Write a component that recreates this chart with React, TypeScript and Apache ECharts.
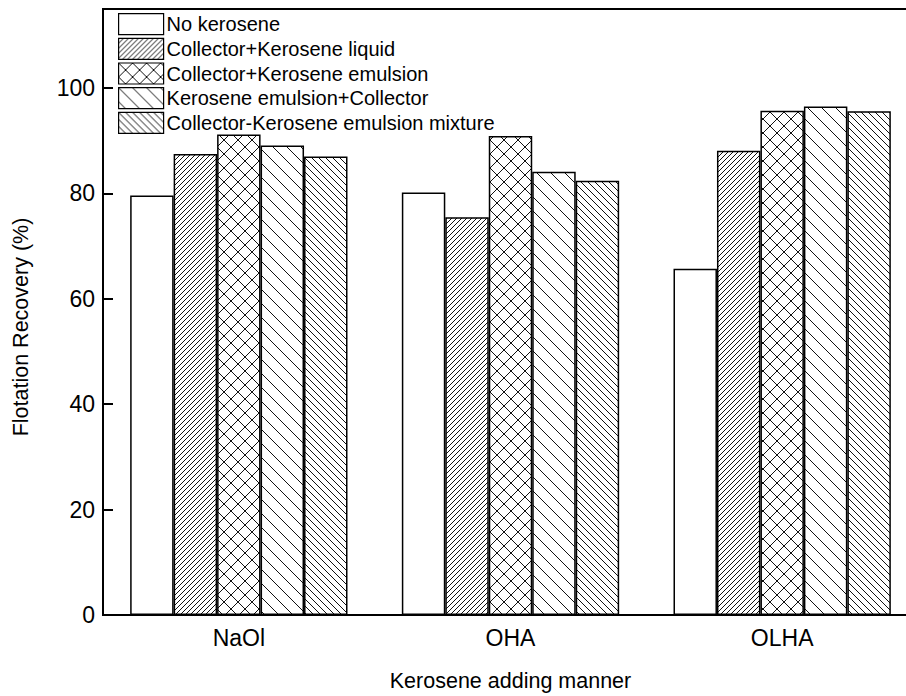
import React, { useEffect, useRef } from "react";
import * as echarts from "echarts";

// Categories and recovery values (%)
const categories = ["NaOl", "OHA", "OLHA"];
const seriesNames = [
  "No kerosene",
  "Collector+Kerosene liquid",
  "Collector+Kerosene emulsion",
  "Kerosene emulsion+Collector",
  "Collector-Kerosene emulsion mixture",
];
const noKerosene = [79.6, 80.2, 65.7];
const collectorKeroseneLiquid = [87.5, 75.5, 88.1];
const collectorKeroseneEmulsion = [91.2, 90.9, 95.7];
const keroseneEmulsionCollector = [89.1, 84.1, 96.5];
const collectorKeroseneMixture = [87.0, 82.4, 95.6];

const yTicks = [0, 20, 40, 60, 80, 100];

const FONT = "'Liberation Sans', Arial, sans-serif";

// Build a repeating hatch tile: "/" rising lines, "\\" falling lines
function hatch(period: number, dirs: string[]) {
  const c = document.createElement("canvas");
  c.width = period;
  c.height = period;
  const ctx = c.getContext("2d")!;
  ctx.fillStyle = "#111";
  for (let i = 0; i < period; i++) {
    if (dirs.includes("/")) ctx.fillRect(i, period - 1 - i, 1, 1);
    if (dirs.includes("\\")) ctx.fillRect(i, i, 1, 1);
  }
  return {
    image: c,
    repeat: "repeat",
    imageWidth: period,
    imageHeight: period,
  } as any;
}

export default function App() {
  const ref = useRef<HTMLDivElement>(null);

  useEffect(() => {
    if (!ref.current) return;
    const chart = echarts.init(ref.current, null, { renderer: "svg" });

    const fills = [
      "#ffffff",
      hatch(5, ["/"]),
      hatch(14, ["/", "\\"]),
      hatch(14, ["\\"]),
      hatch(7, ["\\"]),
    ];
    const values = [
      noKerosene,
      collectorKeroseneLiquid,
      collectorKeroseneEmulsion,
      keroseneEmulsionCollector,
      collectorKeroseneMixture,
    ];

    chart.setOption({
      animation: false,
      backgroundColor: "#ffffff",
      textStyle: { fontFamily: FONT, color: "#000" },
      grid: {
        left: 103,
        top: 9,
        right: -12,
        bottom: 81,
        show: true,
        borderColor: "#000",
        borderWidth: 2,
        containLabel: false,
        outerBoundsMode: "none",
      },
      legend: {
        orient: "vertical",
        left: 118,
        top: 13,
        icon: "rect",
        itemWidth: 45,
        itemHeight: 21,
        itemGap: 2.5,
        padding: 0,
        selectedMode: false,
        data: seriesNames,
        itemStyle: { borderColor: "#000", borderWidth: 1.2 },
        textStyle: { fontFamily: FONT, fontSize: 20, color: "#000", padding: [0, 0, 0, -2] },
      },
      xAxis: {
        type: "category",
        data: categories,
        boundaryGap: true,
        axisLine: { lineStyle: { color: "#000", width: 2 } },
        axisTick: { show: false },
        axisLabel: { fontFamily: FONT, fontSize: 23, color: "#000", margin: 11 },
        name: "Kerosene adding manner",
        nameLocation: "middle",
        nameGap: 55,
        nameTextStyle: { fontFamily: FONT, fontSize: 21.5, color: "#000" },
      },
      yAxis: {
        type: "value",
        min: 0,
        max: 115,
        interval: 20,
        axisLine: { show: true, lineStyle: { color: "#000", width: 2 } },
        axisTick: { show: true, inside: true, length: 10, lineStyle: { color: "#000", width: 2 } },
        splitLine: { show: false },
        axisLabel: {
          fontFamily: FONT,
          fontSize: 23,
          color: "#000",
          margin: 8,
          showMaxLabel: false,
          formatter: (v: number) => (yTicks.includes(v) ? String(v) : ""),
        },
      },
      graphic: [
        {
          type: "text",
          x: 21,
          y: 327,
          rotation: Math.PI / 2,
          style: {
            text: "Flotation Recovery (%)",
            fontFamily: FONT,
            fontSize: 21.5,
            fill: "#000",
            align: "center",
            verticalAlign: "middle",
          },
        },
      ],
      series: values.map((v, i) => ({
        name: seriesNames[i],
        type: "bar",
        data: v,
        barGap: "0%",
        barCategoryGap: "20%",
        itemStyle: {
          color: fills[i],
          borderColor: "#000",
          borderWidth: 1.5,
        },
      })),
    });

    return () => chart.dispose();
  }, []);

  return (
    <div
      ref={ref}
      style={{ position: "absolute", left: 0, top: 0, width: 906, height: 696 }}
    />
  );
}
